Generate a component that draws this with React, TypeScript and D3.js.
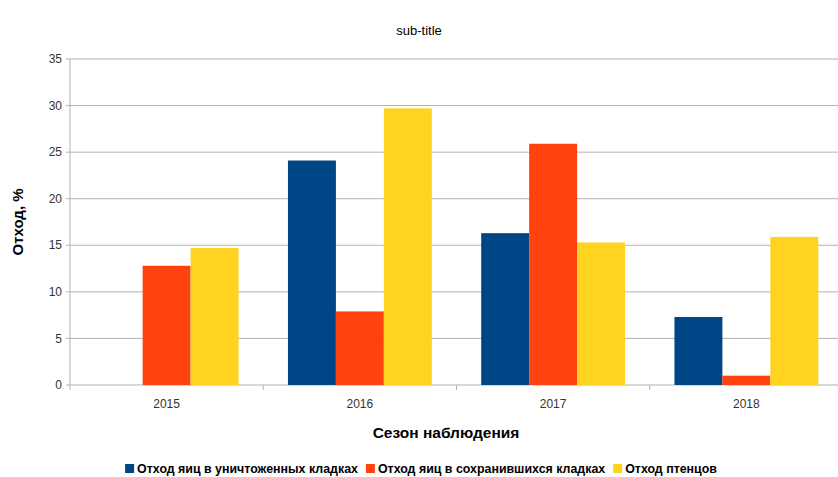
import { useEffect, useRef } from "react";
import * as d3 from "d3";

const seasons = ["2015", "2016", "2017", "2018"];
const seriesNames = [
  "Отход яиц в уничтоженных кладках",
  "Отход яиц в сохранившихся кладках",
  "Отход птенцов",
];
const destroyed = [0, 24.1, 16.3, 7.3];
const kept = [12.8, 7.9, 25.9, 1.0];
const chicks = [14.7, 29.7, 15.3, 15.9];
const yTicks = [0, 5, 10, 15, 20, 25, 30, 35];
const colors = ["#004586", "#ff420e", "#ffd320"];

export default function App() {
  const width = 838;
  const height = 477;
  const marginLeft = 70;
  const marginRight = -5;
  const marginTop = 59;
  const marginBottom = 92;

  const legendRef = useRef(null);

  const x = d3.scaleBand()
    .domain(seasons)
    .range([marginLeft, width - marginRight]);

  const x1 = d3.scaleBand()
    .domain(seriesNames)
    .range([0, x.bandwidth()])
    .paddingOuter(0.515)
    .paddingInner(0);

  const y = d3.scaleLinear()
    .domain([0, 35])
    .range([height - marginBottom, marginTop]);

  const values = [destroyed, kept, chicks];

  useEffect(() => {
    // legend layout measured from text widths
    const g = d3.select(legendRef.current);
    g.selectAll("*").remove();
    let cx = 0;
    seriesNames.forEach((name, i) => {
      const item = g.append("g").attr("transform", `translate(${cx},0)`);
      item.append("rect").attr("x", 0).attr("y", -9).attr("width", 9).attr("height", 9).attr("fill", colors[i]);
      const t = item.append("text")
        .attr("x", 12)
        .attr("y", 0)
        .attr("font-size", 12.4)
        .attr("font-weight", "bold")
        .attr("fill", "#000")
        .text(name);
      const w = (t.node() as SVGTextElement).getComputedTextLength();
      cx += 12 + w + 8;
    });
    const total = cx - 8;
    g.attr("transform", `translate(${(width - total) / 2 + 2},${473})`);
  }, []);

  return (
    <svg width={width} height={height} style={{ position: "absolute", left: 0, top: 0, fontFamily: "Liberation Sans, Arial, sans-serif" }}>
      <rect width={width} height={height} fill="#fff" />
      <text x={419} y={35} textAnchor="middle" fontSize={13} fill="#000">sub-title</text>

      {yTicks.map(t => (
        <g key={t}>
          <line x1={marginLeft - 4} x2={width} y1={y(t)} y2={y(t)} stroke="#b3b3b3" />
          <text x={marginLeft - 8} y={y(t)} dy="0.35em" textAnchor="end" fontSize={12} fill="#333">{t}</text>
        </g>
      ))}
      <line x1={marginLeft} x2={marginLeft} y1={marginTop} y2={y(0) + 5} stroke="#b3b3b3" />

      {seasons.map((s, i) => (
        <g key={s} transform={`translate(${x(s)},0)`}>
          {values.map((v, j) => (
            <rect key={j}
              x={x1(seriesNames[j])}
              y={y(v[i])}
              width={x1.bandwidth()}
              height={y(0) - y(v[i])}
              fill={colors[j]} />
          ))}
          <line x1={x.bandwidth()} x2={x.bandwidth()} y1={y(0)} y2={y(0) + 5} stroke="#b3b3b3" />
          <text x={x.bandwidth() / 2} y={y(0) + 23} textAnchor="middle" fontSize={12} fill="#333">{s}</text>
        </g>
      ))}

      <text transform={`translate(23,${(marginTop + y(0)) / 2}) rotate(-90)`} textAnchor="middle" fontSize={15} fontWeight="bold" fill="#000">Отход, %</text>
      <text x={446} y={438} textAnchor="middle" fontSize={15.5} fontWeight="bold" fill="#000">Сезон наблюдения</text>

      <g ref={legendRef} />
    </svg>
  );
}
